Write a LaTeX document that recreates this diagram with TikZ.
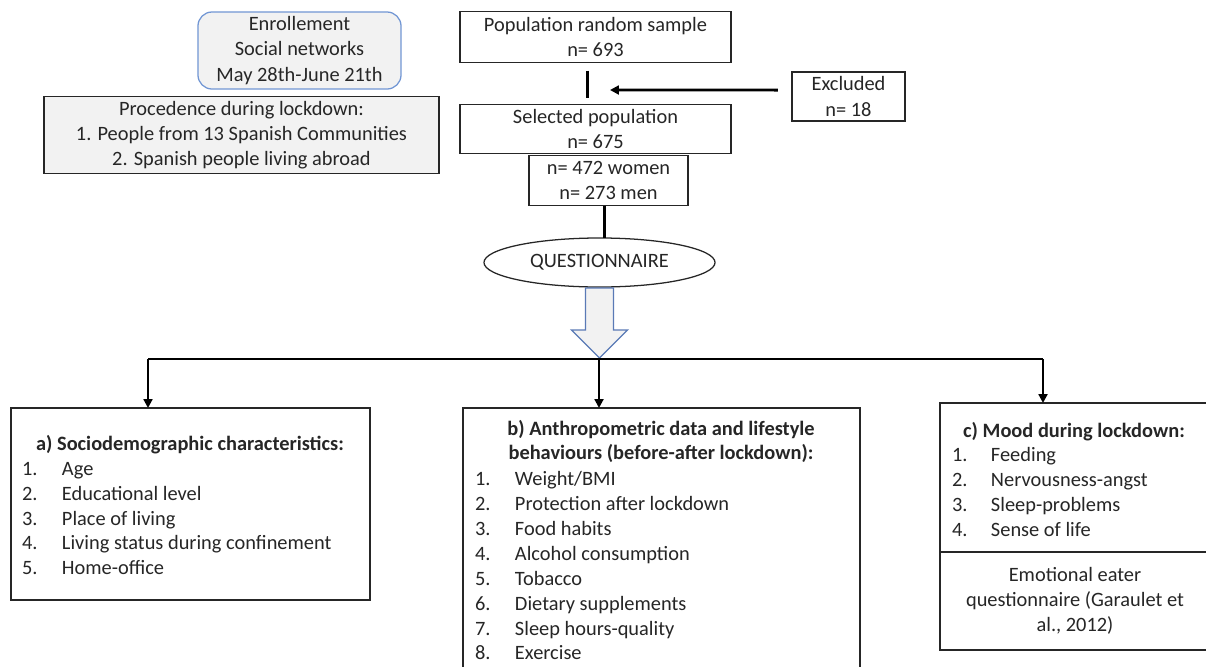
\documentclass[tikz,border=0pt]{standalone}
\usepackage{fontspec}
\setmainfont{Carlito}
\usepackage{tikz}
\usetikzlibrary{arrows.meta,calc,shapes.geometric}

\definecolor{boxgray}{HTML}{F2F2F2}
\definecolor{enrollblue}{HTML}{7196D4}
\definecolor{arrowblue}{HTML}{5A7AB6}
\definecolor{inkgray}{HTML}{262626}

\begin{document}
\begin{tikzpicture}[x=0.025cm, y=-0.025cm, >={Triangle[length=0.22cm,width=0.22cm]},
    every node/.style={font=\fontsize{14.5}{17.9}\selectfont, text=inkgray, inner sep=0pt, outer sep=0pt},
    frame/.style={draw=black!85, line width=0.9pt, fill=white, align=center},
    link/.style={line width=2pt, black},
    head/.style={font=\fontsize{14.5}{17.6}\selectfont\bfseries, align=center},
    item/.style={anchor=west, text height=1.5ex, text depth=0.25ex}]
    %% Background
    \useasboundingbox (0,0) rectangle (1206,666);

    %% Recruitment
    \node[frame, draw=enrollblue, fill=boxgray, rounded corners=0.35cm,
          minimum width=5.075cm, minimum height=1.925cm] (enroll) at (299.5,50.5)
          {Enrollement\\Social networks\\May 28th-June 21th};
    \node[frame, fill=boxgray, minimum width=9.875cm, minimum height=1.925cm] (proc) at (241.5,135)
          {Procedence during lockdown:\\1. People from 13 Spanish Communities\\2. Spanish people living abroad};

    %% Sample
    \node[frame, minimum width=6.775cm, minimum height=1.275cm] (pop) at (595.5,37)
          {Population random sample\\n= 693};
    \node[frame, minimum width=2.825cm, minimum height=1.225cm] (excl) at (848.5,96.5)
          {Excluded\\n= 18};
    \node[frame, minimum width=6.775cm, minimum height=1.225cm] (sel) at (595.5,129)
          {Selected population\\n= 675};
    \node[frame, minimum width=3.975cm, minimum height=1.25cm] (wm) at (608.5,180.5)
          {n= 472 women\\n= 273 men};
    \node[frame, ellipse, minimum width=5.775cm, minimum height=1.225cm] (quest) at (599.5,262.5)
          {QUESTIONNAIRE};

    \coordinate (hit) at (610,90);
    \draw[link, shorten <=0.2cm, shorten >=0.15cm] ([xshift=-0.19cm]pop.south) -- ([xshift=-0.19cm]sel.north);
    \draw[link, ->, shorten <=0.35cm] ([yshift=0.16cm]excl.west) -- (hit);
    \draw[link] ([xshift=-0.1cm]wm.south) -- ([xshift=-0.1cm]wm.south |- quest.north);

    %% Block arrow
    \draw[arrowblue, line width=0.9pt, fill=boxgray, line join=miter]
        ($(quest.south)+(-14,1)$) -- ++(28,0) -- ++(0,42) -- ++(14,0) -- ++(-28,28)
        -- ++(-28,-28) -- ++(14,0) -- cycle;

    %% Branches
    \coordinate (barL) at (148,359);
    \coordinate (barM) at (599,359);
    \coordinate (barR) at (1043,359);
    \node[frame, minimum width=8.975cm, minimum height=4.8cm] (boxa) at (190.5,504) {};
    \node[frame, minimum width=9.925cm, minimum height=6.6cm] (boxb) at (661.5,540) {};
    \node[frame, minimum width=6.75cm, minimum height=3.725cm] (boxc) at (1075,477.5) {};
    \node[frame, minimum width=6.75cm, minimum height=2.45cm, anchor=north] (eater) at (boxc.south)
          {Emotional eater\\questionnaire (Garaulet et\\al., 2012)};
    \draw[link] (barL) -- (barR);
    \draw[link, ->] (barL) -- (barL |- boxa.north);
    \draw[link, ->] (barM) -- (barM |- boxb.north);
    \draw[link, ->] (barR) -- (barR |- boxc.north);

    %% Lists
    \node[head] (ta) at (190,445) {a) Sociodemographic characteristics:};
    \foreach \txt [count=\i] in {Age, Educational level, Place of living,
        Living status during confinement, Home-office}
        \node[item] (a\i) at (22,{446.5+24.8*\i}) {\makebox[1cm][l]{\i.}\txt};

    \node[head] (tb) at (661,441.5)
          {b) Anthropometric data and lifestyle\\behaviours (before-after lockdown):};
    \foreach \txt [count=\i] in {Weight/BMI, Protection after lockdown, Food habits,
        Alcohol consumption, Tobacco, Dietary supplements, Sleep hours-quality, Exercise}
        \node[item] (b\i) at (475,{456.5+24.9*\i}) {\makebox[1cm][l]{\i.}\txt};

    \node[head] (tc) at (1074,432) {c) Mood during lockdown:};
    \foreach \txt [count=\i] in {Feeding, Nervousness-angst, Sleep-problems, Sense of life}
        \node[item] (c\i) at (952,{433+24.7*\i}) {\makebox[0.975cm][l]{\i.}\txt};
\end{tikzpicture}
\end{document}
